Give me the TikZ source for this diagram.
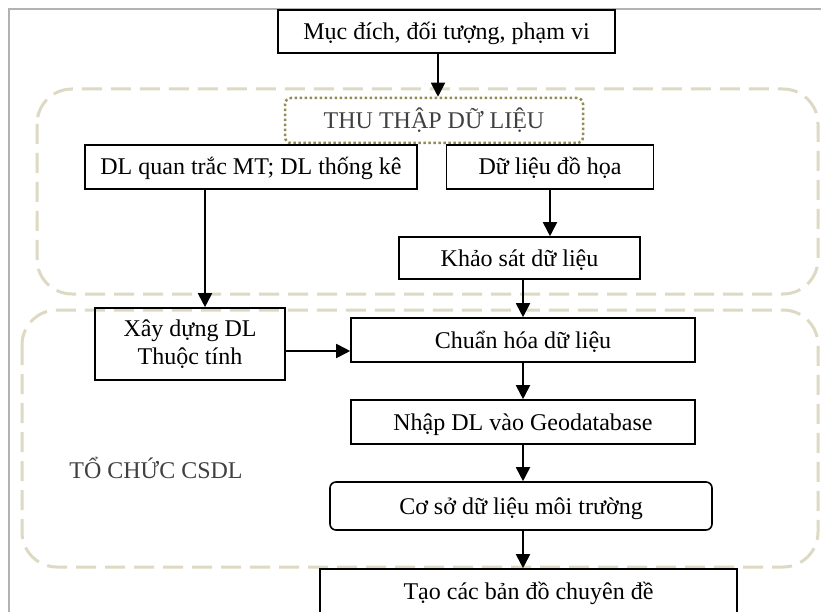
\documentclass[tikz,border=0pt]{standalone}
\usepackage{fontspec}
\setmainfont{Liberation Serif}
\usetikzlibrary{arrows.meta}
\definecolor{regionline}{HTML}{DDD9C3}
\definecolor{dotline}{HTML}{948A54}
\definecolor{labeltext}{HTML}{404040}
\begin{document}
\begin{tikzpicture}[x=1pt, y=-1pt,
    every node/.style={font=\fontsize{24}{28}\selectfont, align=center, text height=20pt, text depth=4pt},
    box/.style={draw, line width=1.6pt, inner sep=0pt},
    region/.style={draw=regionline, line width=3pt, dash pattern=on 20pt off 9pt, rounded corners=35pt},
    arr/.style={line width=1.8pt, -{Triangle[length=14pt, width=14pt]}}]
    \useasboundingbox (0,0) rectangle (821,612);
    \draw[gray!60, line width=1.5pt] (821,9) -- (9,9) -- (9,612);
    \draw[region] (37,89) rectangle (818,294);
    \draw[region] (22,310) rectangle (818,567);
    \node[box, minimum width=337pt, minimum height=43pt] (muc) at (446.5,31.5) {Mục đích, đối tượng, phạm vi};
    \node[draw=dotline, line width=2.5pt, dash pattern=on 2.5pt off 2.5pt, rounded corners=6pt,
      text=labeltext, minimum width=298pt, minimum height=45pt] (thu) at (434,120.5) {THU THẬP DỮ LIỆU};
    \node[box, minimum width=332pt, minimum height=44pt] (quantrac) at (251,167) {DL quan trắc MT; DL thống kê};
    \node[box, minimum width=207pt, minimum height=44pt] (dohoa) at (550,167) {Dữ liệu đồ họa};
    \node[box, minimum width=241pt, minimum height=42pt] (khaosat) at (519.5,258) {Khảo sát dữ liệu};
    \node[box, minimum width=190pt, minimum height=72pt, text height=, text depth=] (xaydung) at (190,344) {Xây dựng DL\\Thuộc tính};
    \node[box, minimum width=344pt, minimum height=44pt] (chuanhoa) at (523,340) {Chuẩn hóa dữ liệu};
    \node[box, minimum width=344pt, minimum height=44pt] (nhap) at (523,422) {Nhập DL vào Geodatabase};
    \node[box, rounded corners=6pt, minimum width=382pt, minimum height=48pt] (csdl) at (521,506) {Cơ sở dữ liệu môi trường};
    \node[box, minimum width=417pt, minimum height=44pt] (bando) at (528.5,591) {Tạo các bản đồ chuyên đề};
    \node[text=labeltext] (tochuc) at (156,470) {TỔ CHỨC CSDL};
    \draw[arr] ([xshift=-8.5pt]muc.south) -- ([xshift=-8.5pt]muc.south |- thu.north);
    \draw[arr] ([xshift=15pt]xaydung.north |- quantrac.south) -- ([xshift=15pt]xaydung.north);
    \draw[arr] (dohoa.south) -- (dohoa.south |- khaosat.north);
    \draw[arr] (khaosat.south -| chuanhoa.north) -- (chuanhoa.north);
    \draw[arr] ([yshift=-7pt]xaydung.east) -- ([yshift=-7pt]xaydung.east -| chuanhoa.west);
    \draw[arr] (chuanhoa.south) -- (nhap.north);
    \draw[arr] (nhap.south) -- (nhap.south |- csdl.north);
    \draw[arr] (nhap.south |- csdl.south) -- (nhap.south |- bando.north);
\end{tikzpicture}
\end{document}
